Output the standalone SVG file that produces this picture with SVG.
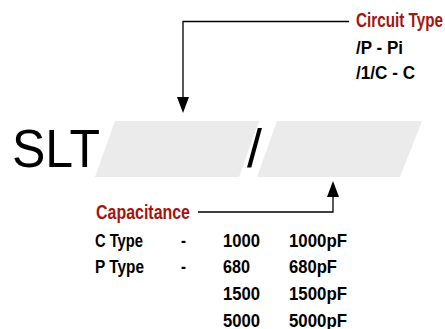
<svg xmlns="http://www.w3.org/2000/svg" width="445" height="329" viewBox="0 0 445 329">
<style>
.t{font-family:"Liberation Sans",Arial,sans-serif;font-weight:bold;fill:#000;font-size:18.5px}
.r{fill:#a3150f;font-size:19.5px}
.s{font-family:"Liberation Sans",Arial,sans-serif;font-weight:normal;font-size:54px;fill:#000}
.box{fill:#ebebeb}
.ln{fill:none;stroke:#000;stroke-width:1.3}
</style>
<g id="code">
<text class="s" x="12" y="167" textLength="88" lengthAdjust="spacingAndGlyphs">SLT</text>
<text class="s" x="247" y="167" textLength="15" lengthAdjust="spacingAndGlyphs">/</text>
</g>
<g id="slot1"><path class="box" d="M115 121H259L239 177H95Z"/></g>
<g id="slot2"><path class="box" d="M277 121H422L400 177H257Z"/></g>
<g id="connectors">
<path class="ln" d="M349 21.5H183V97"/>
<path d="M177 97H189L183 113Z" fill="#000"/>
<path class="ln" d="M198 212H333V197"/>
<path d="M327 197H339L333 181Z" fill="#000"/>
</g>
<g id="circuit-type">
<text class="t r" x="356" y="27" textLength="87" lengthAdjust="spacingAndGlyphs">Circuit Type</text>
<text class="t" x="356" y="54" textLength="47" lengthAdjust="spacingAndGlyphs">/P - Pi</text>
<text class="t" x="356" y="79" textLength="59" lengthAdjust="spacingAndGlyphs">/1/C - C</text>
</g>
<g id="capacitance">
<text class="t r" x="96" y="219" textLength="94" lengthAdjust="spacingAndGlyphs">Capacitance</text>
<text class="t" x="95" y="246.5" textLength="48" lengthAdjust="spacingAndGlyphs">C Type</text>
<text class="t" x="181" y="246.5" textLength="5" lengthAdjust="spacingAndGlyphs">-</text>
<text class="t" x="223" y="246.5" textLength="37" lengthAdjust="spacingAndGlyphs">1000</text>
<text class="t" x="289" y="246.5" textLength="58" lengthAdjust="spacingAndGlyphs">1000pF</text>
<text class="t" x="95" y="273" textLength="49" lengthAdjust="spacingAndGlyphs">P Type</text>
<text class="t" x="181" y="273" textLength="5" lengthAdjust="spacingAndGlyphs">-</text>
<text class="t" x="223" y="273" textLength="27" lengthAdjust="spacingAndGlyphs">680</text>
<text class="t" x="289" y="273" textLength="48" lengthAdjust="spacingAndGlyphs">680pF</text>
<text class="t" x="223" y="300" textLength="37" lengthAdjust="spacingAndGlyphs">1500</text>
<text class="t" x="289" y="300" textLength="58" lengthAdjust="spacingAndGlyphs">1500pF</text>
<text class="t" x="223" y="326.5" textLength="37" lengthAdjust="spacingAndGlyphs">5000</text>
<text class="t" x="289" y="326.5" textLength="58" lengthAdjust="spacingAndGlyphs">5000pF</text>
</g>
</svg>
